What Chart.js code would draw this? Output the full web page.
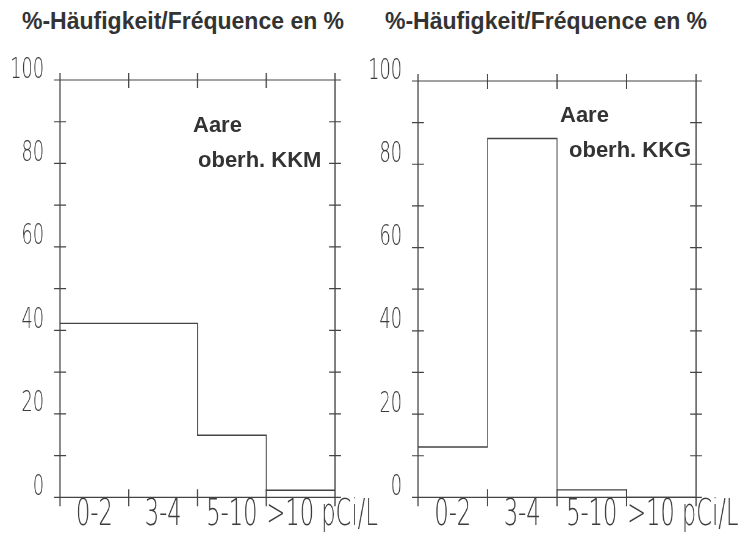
<!DOCTYPE html>
<html>
<head>
<meta charset="utf-8">
<script src="https://cdn.jsdelivr.net/npm/chart.js@4/dist/chart.umd.min.js"></script>
<style>
  body { margin: 0; background: #fff; }
  #wrap { position: relative; width: 743px; height: 541px; overflow: hidden; }
  .title { position: absolute; top: 10px; font: bold 23px "Liberation Sans", Arial, sans-serif; line-height: 23px; color: #333; white-space: nowrap; }
  .note { position: absolute; font: bold 22px "Liberation Sans", Arial, sans-serif; line-height: 22px; color: #333; white-space: nowrap; }
  canvas { position: absolute; top: 0; }
</style>
</head>
<body>
<div id="wrap">
  <div class="title" style="left:22px">%-Häufigkeit/Fréquence en %</div>
  <div class="title" style="left:385px">%-Häufigkeit/Fréquence en %</div>
  <canvas id="chart-kkm"></canvas>
  <canvas id="chart-kkg"></canvas>
  <div class="note" style="left:193px; top:114px">Aare</div>
  <div class="note" style="left:198px; top:149px">oberh. KKM</div>
  <div class="note" style="left:560px; top:104px">Aare</div>
  <div class="note" style="left:569px; top:139px">oberh. KKG</div>
</div>
<script>
// --- data ---
const categories = ['0-2', '3-4', '5-10', '>10'];
const kkmValues = [41.7, 41.7, 14.9, 1.7];   // Aare oberh. KKM
const kkgValues = [12.1, 86.2, 1.8, 0];      // Aare oberh. KKG
const yLabelled = [0, 20, 40, 60, 80, 100];
const unitLabel = 'pCi/L';

// the plotter lettering is thin and very narrow: the canvases are drawn wider and squeezed by k
const k = 0.61;
const H = 541;
const lineColor = '#444';
const textColor = '#3c3c3c';
const tickFont = { family: '"DejaVu Sans", sans-serif', weight: '200', size: 29 };
const catFont = { family: '"DejaVu Sans", sans-serif', weight: '200', size: 37 };

// histogram outline: one point on each bin's left edge, last one repeated on the right edge
function stepPoints(values) {
  const pts = values.map((v, i) => ({ x: i - 0.5, y: v }));
  pts.push({ x: values.length - 0.5, y: values[values.length - 1] });
  return pts;
}

// box around the plot with tick marks crossing all four sides
const framePlugin = {
  id: 'frame',
  afterDraw(chart) {
    const { ctx, chartArea: a, scales: { x, y } } = chart;
    const tx = 6 / k;
    ctx.save();
    ctx.strokeStyle = lineColor;

    ctx.lineWidth = 1.2;
    ctx.beginPath();
    ctx.moveTo(a.left, a.top); ctx.lineTo(a.right, a.top);
    ctx.moveTo(a.left, a.bottom); ctx.lineTo(a.right, a.bottom);
    y.ticks.forEach(t => {
      const p = y.getPixelForValue(t.value);
      ctx.moveTo(a.left - tx, p); ctx.lineTo(a.left + tx, p);
      ctx.moveTo(a.right - tx, p); ctx.lineTo(a.right + tx, p);
    });
    ctx.stroke();

    ctx.lineWidth = 1.2 / k;
    ctx.beginPath();
    ctx.moveTo(a.left, a.top - 7); ctx.lineTo(a.left, a.bottom + 9);
    ctx.moveTo(a.right, a.top - 7); ctx.lineTo(a.right, a.bottom + 9);
    for (let i = 1; i < categories.length; i++) {
      const p = x.getPixelForValue(i - 0.5);
      ctx.moveTo(p, a.top - 7); ctx.lineTo(p, a.top + 8);
      ctx.moveTo(p, a.bottom - 8); ctx.lineTo(p, a.bottom + 9);
    }
    ctx.stroke();
    ctx.restore();
  }
};

function makeChart(id, values, geo) {
  const canvas = document.getElementById(id);
  canvas.width = Math.round(geo.cssWidth / k);
  canvas.height = H;
  canvas.style.left = geo.cssLeft + 'px';
  canvas.style.width = geo.cssWidth + 'px';
  canvas.style.height = H + 'px';
  const last = categories.length - 1;

  return new Chart(canvas, {
    type: 'line',
    data: {
      datasets: [{
        data: stepPoints(values),
        stepped: 'before',
        borderColor: lineColor,
        borderWidth: 1.4,
        pointRadius: 0,
        fill: false
      }]
    },
    options: {
      responsive: false,
      animation: false,
      layout: { padding: { left: 0, top: geo.top, right: (geo.cssLeft + geo.cssWidth - geo.right) / k, bottom: 0 } },
      plugins: {
        legend: { display: false },
        tooltip: { enabled: false }
      },
      scales: {
        x: {
          type: 'linear',
          min: -0.5,
          max: categories.length - 0.5,
          afterBuildTicks: s => { s.ticks = categories.map((c, i) => ({ value: i })); },
          afterFit: s => { s.height = H - geo.bottom; },
          grid: { display: false, drawTicks: false },
          border: { display: false },
          ticks: {
            // the unit follows the last class, as on the original plot
            callback: v => v === last ? '      ' + categories[v] + ' ' + unitLabel : categories[v],
            font: catFont,
            color: textColor,
            padding: -4,
            maxRotation: 0,
            autoSkip: false
          }
        },
        y: {
          min: 0,
          max: 100,
          afterFit: s => { s.width = (geo.left - geo.cssLeft) / k; },
          grid: { display: false, drawTicks: false },
          border: { display: false },
          ticks: {
            stepSize: 10,
            callback: v => yLabelled.includes(v) ? String(v) : '',
            font: tickFont,
            color: textColor,
            padding: 16 / k,
            labelOffset: -10
          }
        }
      }
    },
    plugins: [framePlugin]
  });
}

makeChart('chart-kkm', kkmValues, { cssLeft: 0, cssWidth: 385, left: 60, right: 335, top: 80, bottom: 499 });
makeChart('chart-kkg', kkgValues, { cssLeft: 365, cssWidth: 378, left: 418, right: 696, top: 81, bottom: 500 });
</script>
</body>
</html>
